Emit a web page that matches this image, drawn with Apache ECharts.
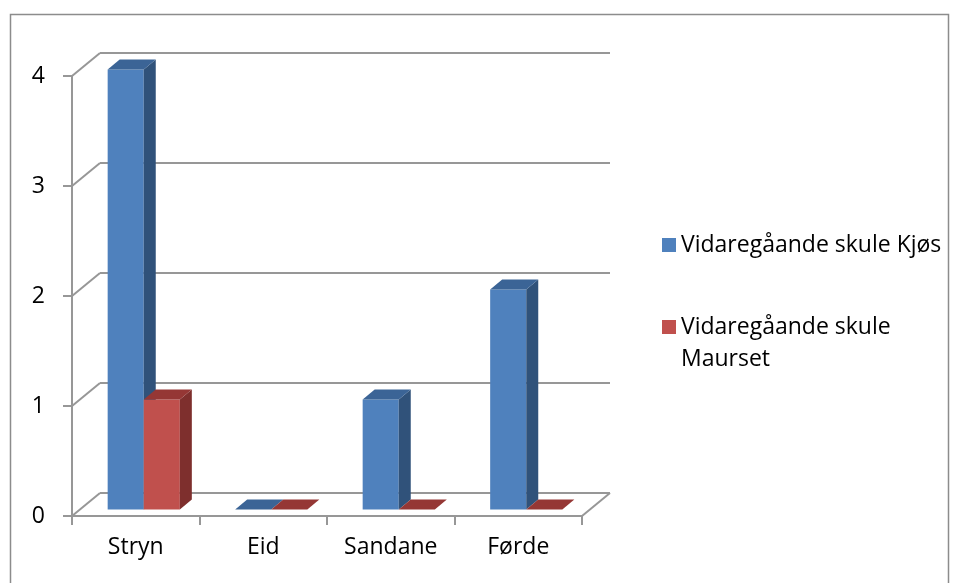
<!DOCTYPE html>
<html>
<head>
<meta charset="utf-8">
<script src="https://cdn.jsdelivr.net/npm/echarts@6/dist/echarts.min.js"></script>
<style>
  html, body { margin: 0; padding: 0; background: #fff; }
  #chart { width: 959px; height: 583px; }
</style>
</head>
<body>
<div id="chart"></div>
<script>
var categories = ['Stryn', 'Eid', 'Sandane', 'Førde'];
var seriesNames = ['Vidaregåande skule Kjøs', 'Vidaregåande skule Maurset'];
var kjosValues = [4, 0, 1, 2];
var maursetValues = [1, 0, 0, 0];
var yTicks = [0, 1, 2, 3, 4];

// pseudo 3d depth of the back wall and of the bars
var WALL_DX = 28, WALL_DY = 23;
var BAR_DX0 = 8, BAR_DY0 = 6.6;
var BAR_DX = 12, BAR_DY = 9.9;
var FONT = 'Open Sans';
var FS = 23;

var colors = [
  { front: '#4F81BD', side: '#30527A', top: '#3B6496' },
  { front: '#C0504D', side: '#7E2F2D', top: '#953735' }
];

var chart = echarts.init(document.getElementById('chart'));

function barRender(slot) {
  return function (params, api) {
    var cat = api.value(0), val = api.value(1);
    var base = api.coord([cat, 0]);
    var top = api.coord([cat, val]);
    var w = api.size([1, 0])[0] * 0.283;
    var x0 = base[0] + (slot === 0 ? -w : 0) + BAR_DX0;
    var x1 = x0 + w;
    var yb = base[1] - BAR_DY0;
    var yt = top[1] - BAR_DY0;
    var c = colors[slot];
    var children = [];
    if (yb - yt > 0.5) {
      children.push({ type: 'rect', shape: { x: x0, y: yt, width: w, height: yb - yt }, style: { fill: c.front } });
      children.push({ type: 'polygon', shape: { points: [[x1, yt], [x1 + BAR_DX, yt - BAR_DY], [x1 + BAR_DX, yb - BAR_DY], [x1, yb]] }, style: { fill: c.side } });
    }
    children.push({ type: 'polygon', shape: { points: [[x0, yt], [x1, yt], [x1 + BAR_DX, yt - BAR_DY], [x0 + BAR_DX, yt - BAR_DY]] }, style: { fill: c.top } });
    return { type: 'group', children: children };
  };
}

function wallRender(params, api) {
  var cs = params.coordSys;
  var y = api.coord([0, api.value(1)])[1];
  var ls = { stroke: '#979797', lineWidth: 2 };
  var children = [
    { type: 'line', shape: { x1: cs.x, y1: y, x2: cs.x + WALL_DX, y2: y - WALL_DY }, style: ls },
    { type: 'line', shape: { x1: cs.x + WALL_DX, y1: y - WALL_DY, x2: cs.x + cs.width + WALL_DX, y2: y - WALL_DY }, style: ls }
  ];
  if (api.value(1) === 0) {
    children.push({ type: 'line', shape: { x1: cs.x + cs.width, y1: y, x2: cs.x + cs.width + WALL_DX, y2: y - WALL_DY }, style: ls });
  }
  return { type: 'group', children: children };
}

chart.setOption({
  animation: false,
  graphic: [{
    type: 'rect',
    shape: { x: 10.5, y: 14.5, width: 938, height: 620 },
    style: { fill: 'none', stroke: '#8c8c8c', lineWidth: 1.5 },
    silent: true
  }],
  grid: { left: 72, top: 76, width: 510, height: 440 },
  legend: {
    orient: 'vertical',
    left: 662,
    top: 229,
    padding: 0,
    itemGap: 18,
    itemWidth: 14,
    itemHeight: 14,
    icon: 'rect',
    selectedMode: false,
    textStyle: { fontFamily: FONT, fontSize: FS, color: '#000', lineHeight: 32 },
    data: [
      { name: seriesNames[0], itemStyle: { color: colors[0].front } },
      { name: seriesNames[1], itemStyle: { color: colors[1].front } }
    ],
    formatter: function (name) {
      // empty first line keeps the icon level with the first text line
      return name === seriesNames[1] ? ' \nVidaregåande skule\nMaurset' : name;
    }
  },
  xAxis: {
    type: 'category',
    data: categories,
    boundaryGap: true,
    axisLine: { lineStyle: { color: '#979797', width: 2 } },
    axisTick: { show: true, length: 9, lineStyle: { color: '#979797', width: 2 } },
    axisLabel: { color: '#000', fontFamily: FONT, fontSize: FS, margin: 20 },
    splitLine: { show: false }
  },
  yAxis: {
    type: 'value',
    min: 0,
    max: 4,
    interval: 1,
    axisLine: { show: true, lineStyle: { color: '#979797', width: 2 } },
    axisTick: { show: true, length: 9, lineStyle: { color: '#979797', width: 2 } },
    axisLabel: { color: '#000', fontFamily: FONT, fontSize: FS, margin: 27 },
    splitLine: { show: false }
  },
  series: [
    {
      type: 'custom',
      name: 'wall',
      silent: true,
      z: 1,
      renderItem: wallRender,
      data: yTicks.map(function (v) { return [0, v]; })
    },
    {
      type: 'custom',
      name: seriesNames[0],
      z: 3,
      itemStyle: { color: colors[0].front },
      renderItem: barRender(0),
      data: kjosValues.map(function (v, i) { return [i, v]; })
    },
    {
      type: 'custom',
      name: seriesNames[1],
      z: 4,
      itemStyle: { color: colors[1].front },
      renderItem: barRender(1),
      data: maursetValues.map(function (v, i) { return [i, v]; })
    }
  ]
});
</script>
</body>
</html>
